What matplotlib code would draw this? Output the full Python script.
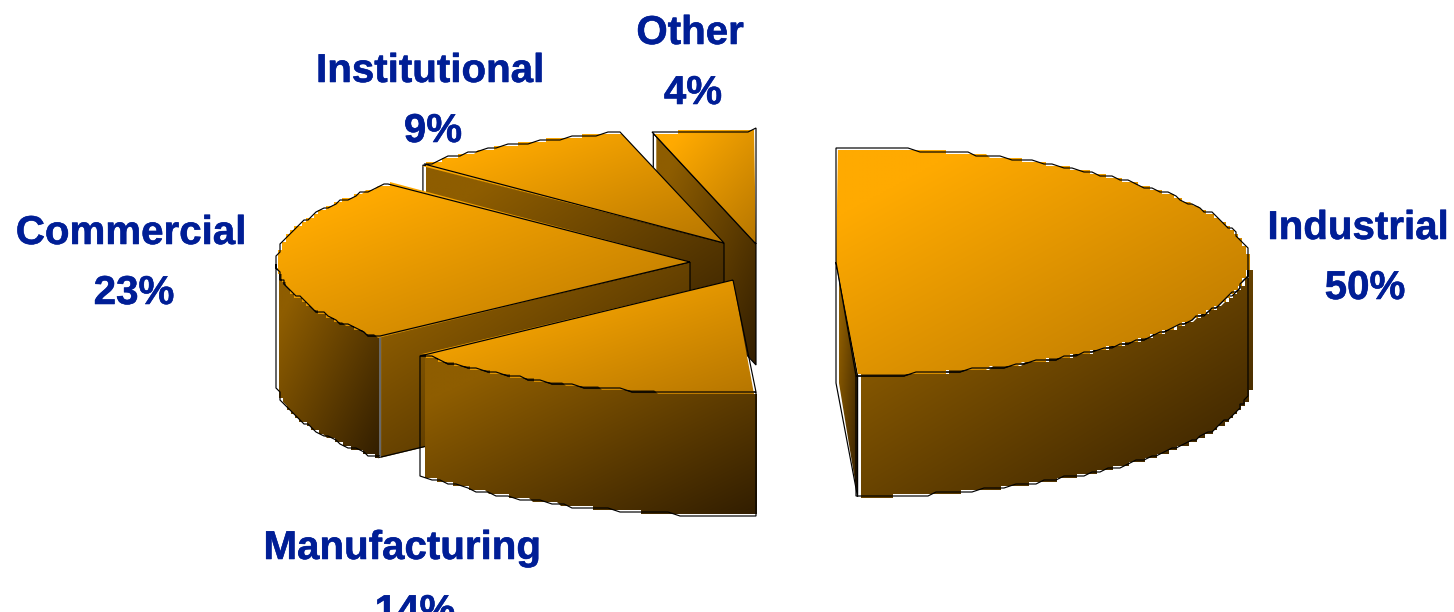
import numpy as np
import matplotlib
matplotlib.use("Agg")
import matplotlib.pyplot as plt
import matplotlib.patheffects as pe
from matplotlib.patches import Polygon

categories = ["Industrial", "Manufacturing", "Commercial", "Institutional", "Other"]
shares = [50, 14, 23, 9, 4]
share_labels = ["50%", "14%", "23%", "9%", "4%"]

# Pie layout in pixel units
CENTER = (746, 262)
RX, RY, DEPTH = 413, 114, 121
EXPLODE = [(90, 0), (-13, 18), (-56, 0), (-22, -19), (10, -18)]
WALL_SHIFT = [3, 3, 1, 0, 0]

# Label anchors: name position, then share position (centre x, baseline y)
NAME_POS = [(1358, 239), (402, 559), (131, 244), (430, 82), (690, 44)]
SHARE_POS = [(1365, 299), (415, 623), (134, 304), (433, 142), (693, 104)]

TOP_COLORS = ((255, 170, 0), (182, 118, 0))
WALL_COLORS = ((142, 93, 0), (50, 30, 0))
TEXT_COLOR = "#001E96"

W, H = 1454, 612
fig = plt.figure(figsize=(W / 100, H / 100), dpi=100, facecolor="white")
ax = fig.add_axes([0, 0, 1, 1])
ax.set_xlim(0, W)
ax.set_ylim(H, 0)
ax.axis("off")

z = [1]


def next_z():
    z[0] += 1
    return z[0]


def view_angle(theta):
    # Slight perspective correction of the pie's angles, strongest nearest the viewer
    return theta + 3.0 * ((1 - np.sin(np.radians(theta))) / 2) ** 4


def arc(apex, a, b, n=240):
    th = np.radians(view_angle(np.linspace(a, b, n)))
    return np.column_stack([apex[0] + RX * np.cos(th), apex[1] - RY * np.sin(th)])


def stairs(pts, grid=4.0, offset=0.0):
    # Snap a curve to a coarse raster, the way low-resolution chart exports do
    snapped = np.round((pts + offset) / grid) * grid - offset
    keep = np.r_[True, np.any(np.diff(snapped, axis=0) != 0, axis=1)]
    return snapped[keep]


def jagged(pts, stride=10):
    # Outline version of the raster: sparse snapped points joined by short slants
    idx = np.r_[np.arange(0, len(pts) - 1, stride), len(pts) - 1]
    return stairs(pts[idx])


def shaded(verts, colors):
    verts = np.asarray(verts, float)
    x0, y0 = verts.min(axis=0)
    x1, y1 = verts.max(axis=0)
    u, v = np.meshgrid(np.linspace(0, 1, 128), np.linspace(0, 1, 128))
    t = np.clip(((u + v) / 2 - 0.15) / 0.85, 0, 1)[..., None]
    c0, c1 = np.array(colors[0]) / 255, np.array(colors[1]) / 255
    img = c0 * (1 - t) + c1 * t
    im = ax.imshow(img, extent=(x0, x1, y1, y0), aspect="auto",
                   interpolation="bilinear", zorder=next_z())
    im.set_clip_path(Polygon(verts, closed=True, transform=ax.transData))


def outline(verts, closed=True, color="black", lw=0.85):
    verts = np.asarray(verts, float)
    if closed:
        verts = np.vstack([verts, verts[0]])
    ax.plot(verts[:, 0], verts[:, 1], color=color, lw=lw, zorder=next_z(),
            solid_joinstyle="miter", solid_capstyle="butt")


def down(pts):
    return np.asarray(pts, float) + [0, DEPTH]


def draw_radial_wall(apex, rim):
    quad = np.array([apex, rim, down([rim])[0], down([apex])[0]], float)
    fill = quad.copy()
    xmin, xmax = fill[:, 0].min(), fill[:, 0].max()
    fill[:, 0] = xmin + 3 + (fill[:, 0] - xmin) * (xmax - xmin - 3) / (xmax - xmin)
    shaded(fill, WALL_COLORS)
    outline(quad)


def draw_slice(i, start, end):
    apex = (CENTER[0] + EXPLODE[i][0], CENTER[1] + EXPLODE[i][1])
    n = max(int(abs(start - end) * 6), 20)
    rim = arc(apex, start, end, n)
    mid = arc(apex, (start + end) / 2, (start + end) / 2, 1)[0]

    # Side faces cut through the pie: only those turned to the viewer
    for p in (rim[0], rim[-1]):
        dx = p[0] - apex[0]
        if abs(dx) < 1:
            continue
        line_y = apex[1] + (p[1] - apex[1]) * (mid[0] - apex[0]) / dx
        if mid[1] < line_y:
            draw_radial_wall(apex, p)

    # Outer wall for the part of the rim nearest the viewer
    th = view_angle(np.linspace(start, end, n))
    front = rim[np.sin(np.radians(th)) <= 0]
    if len(front) > 1:
        step_top = stairs(front, 4.0, 2.0) + [WALL_SHIFT[i], 0]
        step_low = stairs(down(front), 4.0, 2.0) + [WALL_SHIFT[i], 0]
        shaded(np.vstack([step_top, step_low[::-1]]), WALL_COLORS)
        outline(np.vstack([jagged(front), jagged(down(front))[::-1]]))

    # Top face
    shaded(np.vstack([[apex], stairs(rim, 4.0, 2.0)]), TOP_COLORS)
    outline(np.vstack([[apex], jagged(rim)]))


# Slice boundaries, clockwise from twelve o'clock
edges = 90 - np.cumsum([0] + shares) * 360 / sum(shares)

# Paint from the back of the pie to the front
for i in [4, 3, 2, 1, 0]:
    draw_slice(i, edges[i], edges[i + 1])

font = dict(family=["Liberation Sans", "DejaVu Sans"], fontsize=29, fontweight="bold",
            color=TEXT_COLOR, ha="center", va="baseline", zorder=500,
            path_effects=[pe.withStroke(linewidth=0.4, foreground=TEXT_COLOR)])
for name, share, name_xy, share_xy in zip(categories, share_labels, NAME_POS, SHARE_POS):
    ax.text(name_xy[0], name_xy[1], name, **font)
    ax.text(share_xy[0], share_xy[1], share, **font)

fig.savefig("out.png", dpi=100, facecolor="white")
